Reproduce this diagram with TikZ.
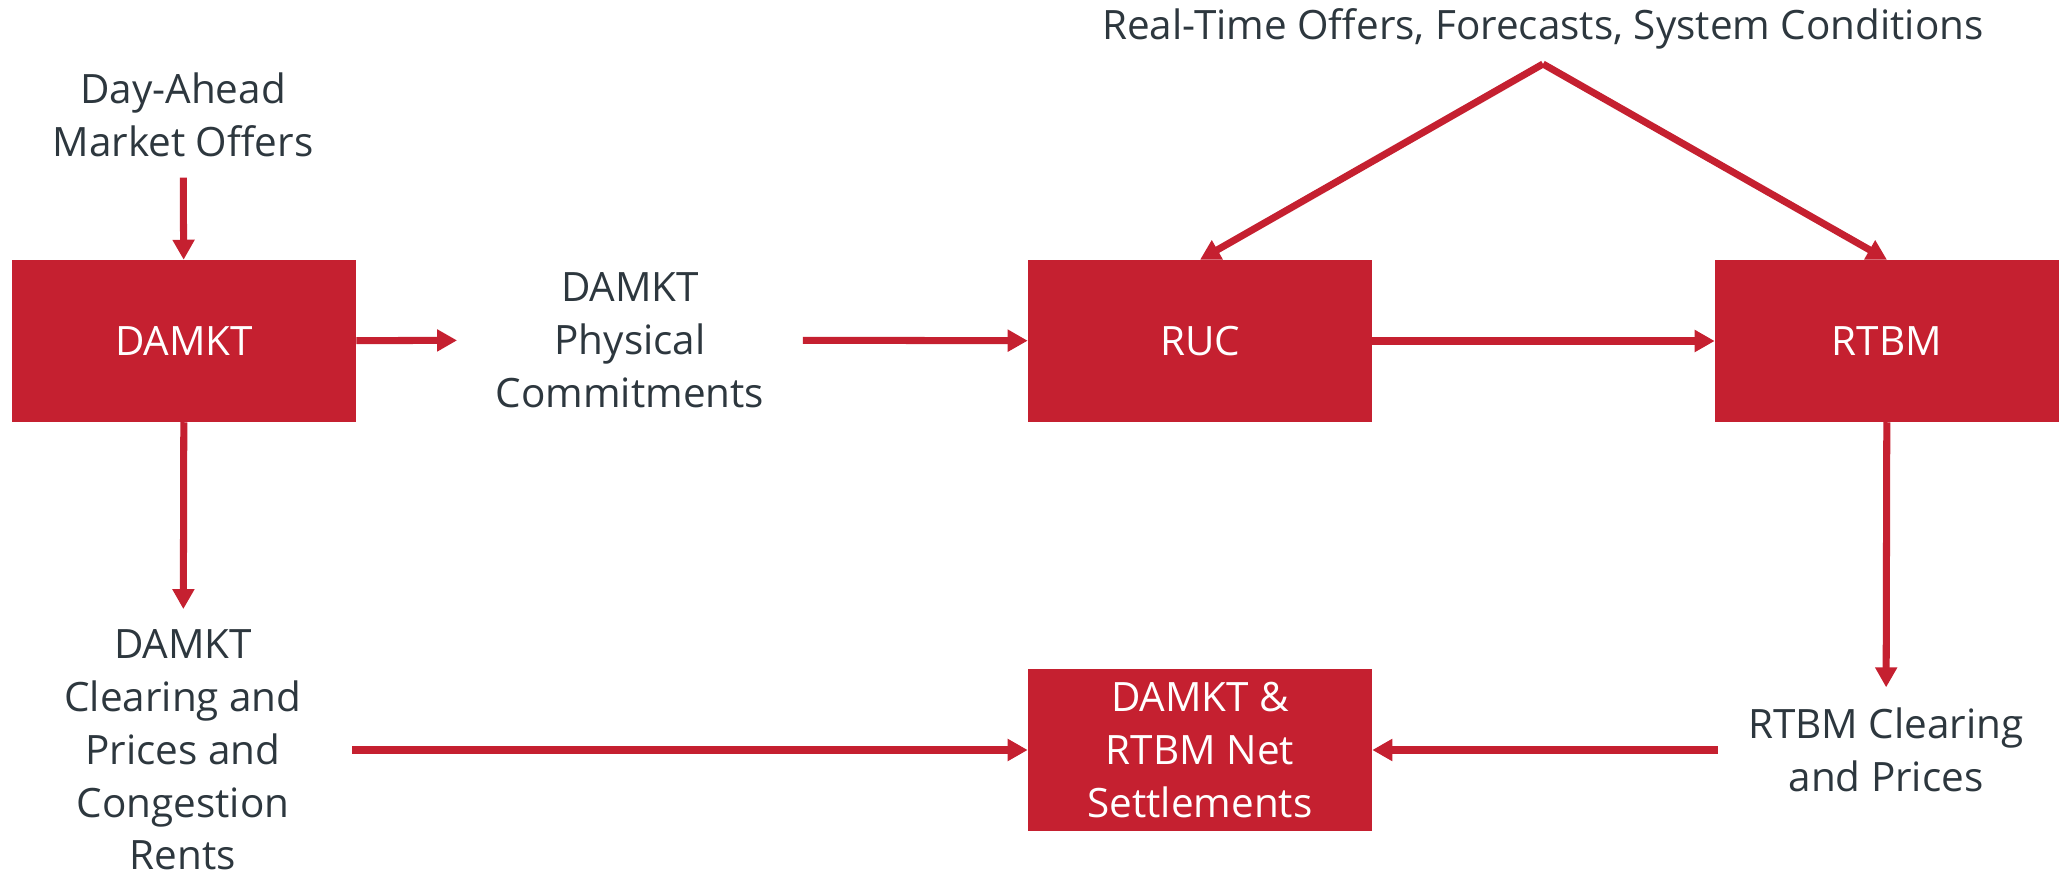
\documentclass[tikz,border=0pt]{standalone}
\usepackage{fontspec}
\setmainfont{Open Sans}
\usetikzlibrary{arrows.meta,positioning}
\definecolor{sppred}{RGB}{197,32,48}
\definecolor{labelgray}{RGB}{45,55,62}

\begin{document}
\begin{tikzpicture}[
    x=0.01cm, y=-0.01cm,
    every node/.style={font=\fontsize{11.5}{15}\selectfont},
    market/.style={rectangle,fill=sppred,text=white,minimum width=3.43cm,
      minimum height=1.61cm,align=center,inner sep=0pt},
    info/.style={text=labelgray,align=center,inner xsep=0.38cm,inner ysep=0.2cm},
    arrow/.style={-{Triangle[length=0.2cm,width=0.21cm]},draw=sppred,line width=2pt}
  ]
    \useasboundingbox (0,0) rectangle (2059,873);

    \node[market] (damkt) at (184,341) {DAMKT};
    \node[market] (ruc) at (1200,341) {RUC};
    \node[market] (rtbm) at (1887,341) {RTBM};
    \node[market] (settle) at (1200,750) {DAMKT \&\\RTBM Net\\Settlements};

    \node[info] (daoffers) at (183,115) {Day-Ahead\\Market Offers};
    \node[info] (physical) at (630,340) {DAMKT\\Physical\\Commitments};
    \node[info] (rtoffers) at (1543,29) {Real-Time Offers, Forecasts, System Conditions};
    \node[info,inner xsep=0.3cm] (rtclear) at (1886,750) {RTBM Clearing\\and Prices};
    \node[info,inner xsep=0.5cm] (daclear) at (183,750) {DAMKT\\Clearing and\\Prices and\\Congestion\\Rents};
    \coordinate (apex) at (1543,64);

    \draw[arrow] (daoffers) -- (damkt);
    \draw[arrow] (damkt) -- (physical);
    \draw[arrow] (physical) -- (ruc);
    \draw[arrow] (ruc) -- (rtbm);
    \draw[arrow] (apex) -- (ruc.north);
    \draw[arrow] (apex) -- (rtbm.north);
    \draw[arrow] (damkt) -- (daclear);
    \draw[arrow] (rtbm) -- (rtclear);
    \draw[arrow] (daclear) -- (settle);
    \draw[arrow] (rtclear) -- (settle);
\end{tikzpicture}
\end{document}
